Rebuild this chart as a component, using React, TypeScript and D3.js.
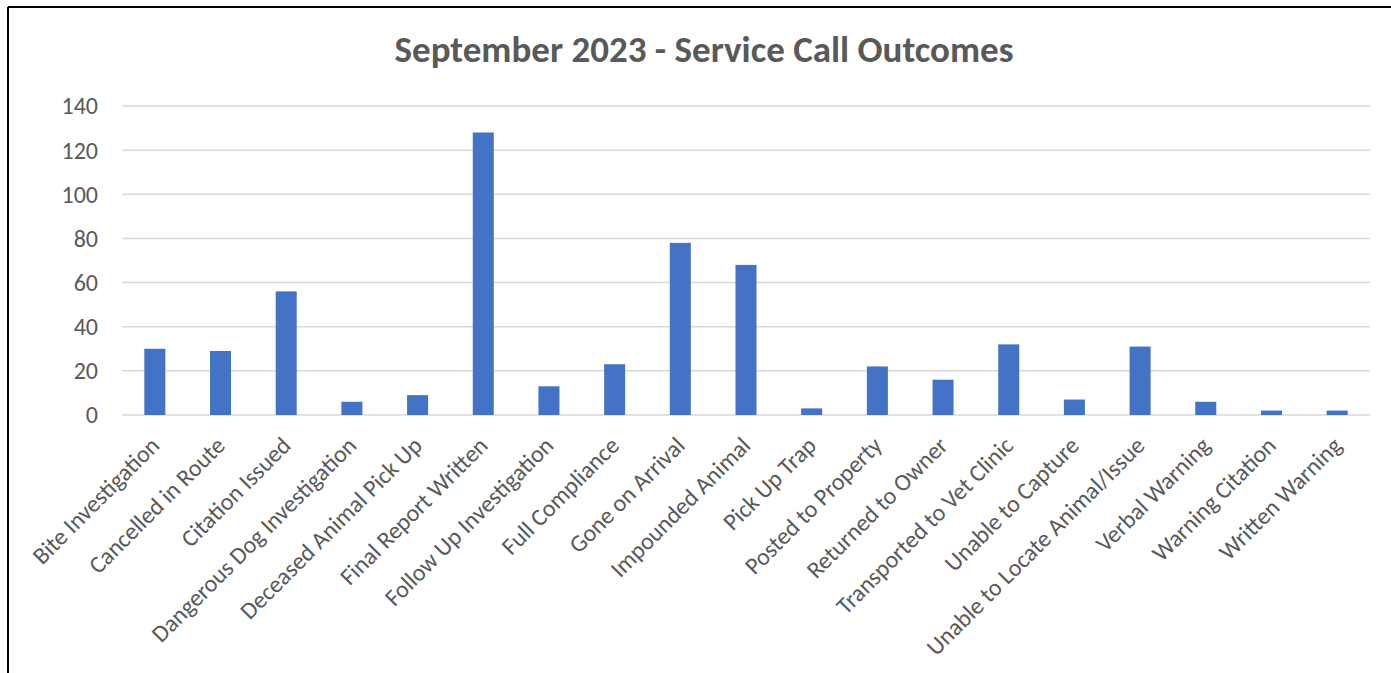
import React from "react";
import * as d3 from "d3";

const categories = [
  "Bite Investigation",
  "Cancelled in Route",
  "Citation Issued",
  "Dangerous Dog Investigation",
  "Deceased Animal Pick Up",
  "Final Report Written",
  "Follow Up Investigation",
  "Full Compliance",
  "Gone on Arrival",
  "Impounded Animal",
  "Pick Up Trap",
  "Posted to Property",
  "Returned to Owner",
  "Transported to Vet Clinic",
  "Unable to Capture",
  "Unable to Locate Animal/Issue",
  "Verbal Warning",
  "Warning Citation",
  "Written Warning",
];
const counts = [30, 29, 56, 6, 9, 128, 13, 23, 78, 68, 3, 22, 16, 32, 7, 31, 6, 2, 2];
const yTicks = [0, 20, 40, 60, 80, 100, 120, 140];

const title = "September 2023 - Service Call Outcomes";

const App = () => {
  const width = 1391;
  const height = 673;
  const margin = { top: 106, right: 21, bottom: 258, left: 122 };

  const x = d3
    .scaleBand()
    .domain(categories)
    .range([margin.left, width - margin.right])
    .paddingInner(0.68)
    .paddingOuter(0.34);

  const y = d3
    .scaleLinear()
    .domain([0, 140])
    .range([height - margin.bottom, margin.top]);

  const textColor = "#595959";
  const font = "Carlito, Calibri, Lato, sans-serif";

  return (
    <svg
      width={width}
      height={height}
      style={{ position: "absolute", left: 0, top: 0, background: "#fff" }}
      fontFamily={font}
    >
      <rect x={0} y={0} width={width} height={height} fill="#fff" />
      {/* frame */}
      <line x1={8} x2={width} y1={7} y2={7} stroke="#000" strokeWidth={2} />
      <line x1={8} x2={8} y1={7} y2={height} stroke="#000" strokeWidth={2} />

      <text
        x={704}
        y={62}
        textAnchor="middle"
        fontSize={37}
        fontWeight="bold"
        fill={textColor}
      >
        {title}
      </text>

      {yTicks.map((t) => (
        <g key={t}>
          <line
            x1={margin.left}
            x2={width - margin.right}
            y1={y(t)}
            y2={y(t)}
            stroke="#d9d9d9"
            strokeWidth={1.5}
          />
          <text
            x={98}
            y={y(t)}
            dy="0.35em"
            textAnchor="end"
            fontSize={24}
            fill={textColor}
          >
            {t}
          </text>
        </g>
      ))}

      {categories.map((c, i) => (
        <rect
          key={c}
          x={x(c)}
          y={y(counts[i])}
          width={x.bandwidth()}
          height={y(0) - y(counts[i])}
          fill="#4472c4"
        />
      ))}

      {categories.map((c) => {
        const cx = (x(c) as number) + x.bandwidth() / 2 + 6;
        const cy = y(0) + 32;
        return (
          <text
            key={c}
            transform={`translate(${cx},${cy}) rotate(-45)`}
            textAnchor="end"
            fontSize={24}
            fill={textColor}
          >
            {c}
          </text>
        );
      })}
    </svg>
  );
};

export default App;
